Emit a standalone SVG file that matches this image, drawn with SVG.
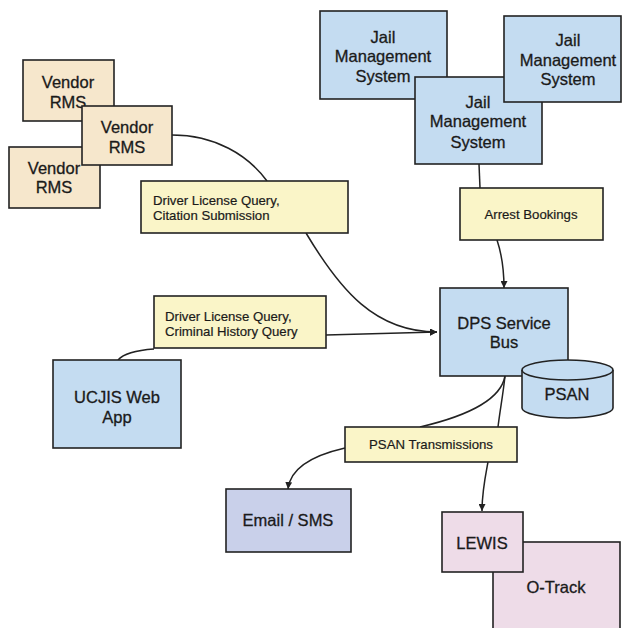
<svg xmlns="http://www.w3.org/2000/svg" width="626" height="628" viewBox="0 0 626 628">
<style>
.n{stroke:#222;stroke-width:1.6}
.blue{fill:#c4dcf1}
.vend{fill:#f6e7cc}
.lab{fill:#faf5c8}
.mail{fill:#c9d0ea}
.pink{fill:#eedce8}
.t{font-family:"Liberation Sans",Arial,sans-serif;font-size:16.5px;fill:#1a1a1a;stroke:#1a1a1a;stroke-width:0.3;text-anchor:middle}
.s{font-family:"Liberation Sans",Arial,sans-serif;font-size:13.2px;fill:#1a1a1a;stroke:#1a1a1a;stroke-width:0.2}
.c{fill:none;stroke:#222;stroke-width:1.5}
</style>
<defs>
<marker id="ah" viewBox="0 0 10 10" refX="10" refY="5" markerWidth="7" markerHeight="7" markerUnits="userSpaceOnUse" orient="auto">
<path d="M0,0 L10,5 L0,10 z" fill="#222"/>
</marker>
</defs>
<rect width="626" height="628" fill="#ffffff"/>
<g id="connectors">
<path class="c" d="M172,135 C215,135 248,155 267,181"/>
<path class="c" d="M306,233 C340,290 375,332 437,332" marker-end="url(#ah)"/>
<path class="c" d="M326,335 L437,332" marker-end="url(#ah)"/>
<path class="c" d="M118,360 C125,352 140,350 154,349"/>
<path class="c" d="M479,164 L480,188"/>
<path class="c" d="M497,240 C502,255 504,268 504,288" marker-end="url(#ah)"/>
<path class="c" d="M505,376 C500,405 450,420 420,427"/>
<path class="c" d="M505,376 C503,395 500,410 498,427"/>
<path class="c" d="M345,448 C310,456 290,470 288,489" marker-end="url(#ah)"/>
<path class="c" d="M488,462 C485,478 482,492 482,511" marker-end="url(#ah)"/>
</g>
<g id="vendor-rms-1"><rect class="n vend" x="23" y="60" width="91" height="61"/><text class="t" x="68" y="88">Vendor</text><text class="t" x="68" y="108">RMS</text></g>
<g id="vendor-rms-3"><rect class="n vend" x="9" y="147" width="91" height="61"/><text class="t" x="54" y="174">Vendor</text><text class="t" x="54" y="193">RMS</text></g>
<g id="vendor-rms-2"><rect class="n vend" x="82" y="106" width="90" height="59"/><text class="t" x="127" y="133">Vendor</text><text class="t" x="127" y="153">RMS</text></g>
<g id="jms-1"><rect class="n blue" x="320" y="11" width="127" height="88"/><text class="t" x="383" y="43">Jail</text><text class="t" x="383" y="62">Management</text><text class="t" x="383" y="82">System</text></g>
<g id="jms-2"><rect class="n blue" x="415" y="77" width="127" height="87"/><text class="t" x="478" y="108">Jail</text><text class="t" x="478" y="127">Management</text><text class="t" x="478" y="148">System</text></g>
<g id="jms-3"><rect class="n blue" x="504" y="16" width="117" height="86"/><text class="t" x="568" y="46">Jail</text><text class="t" x="568" y="66">Management</text><text class="t" x="568" y="85">System</text></g>
<g id="label-dl-citation"><rect class="n lab" x="141" y="181" width="207" height="52"/><text class="s" x="153" y="205">Driver License Query,</text><text class="s" x="153" y="220">Citation Submission</text></g>
<g id="label-arrest"><rect class="n lab" x="460" y="188" width="143" height="52"/><text class="s" x="531" y="219" text-anchor="middle">Arrest Bookings</text></g>
<g id="label-dl-criminal"><rect class="n lab" x="154" y="296" width="172" height="52"/><text class="s" x="165" y="321">Driver License Query,</text><text class="s" x="165" y="336">Criminal History Query</text></g>
<g id="ucjis"><rect class="n blue" x="53" y="360" width="128" height="88"/><text class="t" x="117" y="403">UCJIS Web</text><text class="t" x="117" y="423">App</text></g>
<g id="dps"><rect class="n blue" x="440" y="288" width="128" height="88"/><text class="t" x="504" y="329">DPS Service</text><text class="t" x="504" y="348">Bus</text></g>
<g id="psan"><path class="n blue" d="M522,370 L522,408 A45.5,10 0 0 0 613,408 L613,370 A45.5,10 0 0 0 522,370 Z"/><path class="n" fill="none" d="M522,370 A45.5,10 0 0 0 613,370"/><text class="t" x="567" y="400">PSAN</text></g>
<g id="label-psan"><rect class="n lab" x="345" y="427" width="172" height="35"/><text class="s" x="431" y="449" text-anchor="middle">PSAN Transmissions</text></g>
<g id="email-sms"><rect class="n mail" x="226" y="489" width="125" height="63"/><text class="t" x="288" y="526">Email / SMS</text></g>
<g id="o-track"><rect class="n pink" x="493" y="542" width="127" height="90"/><text class="t" x="556" y="593">O-Track</text></g>
<g id="lewis"><rect class="n pink" x="442" y="512" width="81" height="60"/><text class="t" x="482" y="549">LEWIS</text></g>
</svg>
